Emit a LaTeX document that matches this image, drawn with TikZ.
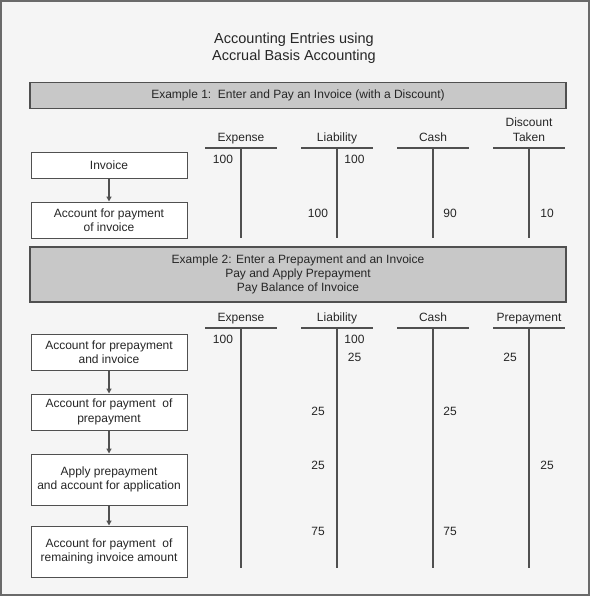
\documentclass[tikz,border=0pt]{standalone}
\usepackage{fontspec}
\setmainfont{Liberation Sans}
\usetikzlibrary{arrows.meta}
\definecolor{bg}{HTML}{F5F5F5}
\definecolor{frame}{HTML}{6A6A6A}
\definecolor{barfill}{HTML}{C8C8C8}
\definecolor{ink}{HTML}{262626}
\definecolor{linec}{HTML}{505050}
\begin{document}
\begin{tikzpicture}[x=1pt,y=-1pt,
  txt/.style={font=\fontsize{12}{14}\selectfont, text=ink, inner sep=0pt},
  head/.style={txt, anchor=base},
  bar/.style={draw=linec, line width=1.4pt, fill=barfill, minimum width=536pt, inner sep=0pt, align=center,
              font=\fontsize{12}{14}\selectfont, text=ink},
  stepbox/.style={draw=linec, line width=1pt, fill=white, minimum width=156pt, inner sep=0pt, align=center,
              font=\fontsize{12}{14.5}\selectfont, text=ink},
  tline/.style={draw=linec, line width=1.3pt},
  flow/.style={draw=linec, line width=1.2pt, -{Triangle[length=5pt,width=5pt]}},
  num/.style={txt}]
\useasboundingbox (0,0) rectangle (590,596);
\draw[fill=bg, draw=frame, line width=2pt] (1,1) rectangle (588.5,594.5);

% title
\node[txt, align=center, font=\fontsize{14.5}{17}\selectfont] (title) at (294,48.5)
  {Accounting Entries using\\Accrual Basis Accounting};

% bars
\node[bar, minimum height=26.5pt] (bar1) at (298,95.5)
  {Example 1:\ \ Enter and Pay an Invoice (with a Discount)};
\node[bar, minimum height=55pt, font=\fontsize{12}{13.7}\selectfont] (bar2) at (298,274.5)
  {Example 2: Enter a Prepayment and an Invoice\\Pay and Apply Prepayment\\Pay Balance of Invoice};

% Example 1 boxes
\node[stepbox, minimum height=25pt] (inv) at (109,165.5) {Invoice};
\node[stepbox, minimum height=36pt] (pay1) at (109,220) {Account for payment\\of invoice};
\draw[flow] (inv.south) -- (pay1.north);

% Example 2 boxes
\node[stepbox, minimum height=36pt] (bA) at (109,352) {Account for prepayment\\and invoice};
\node[stepbox, minimum height=36pt] (bB) at (109,412) {Account for payment\ \ of\\prepayment};
\node[stepbox, minimum height=51pt] (bC) at (109,479.5) {Apply prepayment\\and account for application};
\node[stepbox, minimum height=51pt] (bD) at (109,551.5) {Account for payment\ \ of\\remaining invoice amount};
\draw[flow] (bA.south) -- (bB.north);
\draw[flow] (bB.south) -- (bC.north);
\draw[flow] (bC.south) -- (bD.north);

% Example 1 T-accounts
\foreach \cx/\name in {241/Expense,337/Liability,433/Cash} {
  \node[head] (h1\name) at (\cx,141.3) {\name};
}
\node[txt, align=center, font=\fontsize{12}{15}\selectfont] (h1Disc) at (529,129.5) {Discount\\Taken};
\foreach \cx in {241,337,433,529} {
  \draw[tline] (\cx-36,148) -- (\cx+36,148);
  \draw[tline] (\cx,148) -- (\cx,238);
}
\node[num] (e1a) at (223,159) {100};
\node[num] (e1b) at (354.5,159) {100};
\node[num] (e1c) at (318,213) {100};
\node[num] (e1d) at (450,213) {90};
\node[num] (e1e) at (547,213) {10};

% Example 2 T-accounts
\foreach \cx/\name in {241/Expense,337/Liability,433/Cash,529/Prepayment} {
  \node[head] (h2\name) at (\cx,321.3) {\name};
  \draw[tline] (\cx-36,328) -- (\cx+36,328);
  \draw[tline] (\cx,328) -- (\cx,568);
}
\node[num] (e2a) at (223,339) {100};
\node[num] (e2b) at (354.5,339) {100};
\node[num] (e2c) at (354.5,357) {25};
\node[num] (e2d) at (510,357) {25};
\node[num] (e2e) at (318,411) {25};
\node[num] (e2f) at (450,411) {25};
\node[num] (e2g) at (318,465) {25};
\node[num] (e2h) at (547,465) {25};
\node[num] (e2i) at (318,531) {75};
\node[num] (e2j) at (450,531) {75};
\end{tikzpicture}
\end{document}
